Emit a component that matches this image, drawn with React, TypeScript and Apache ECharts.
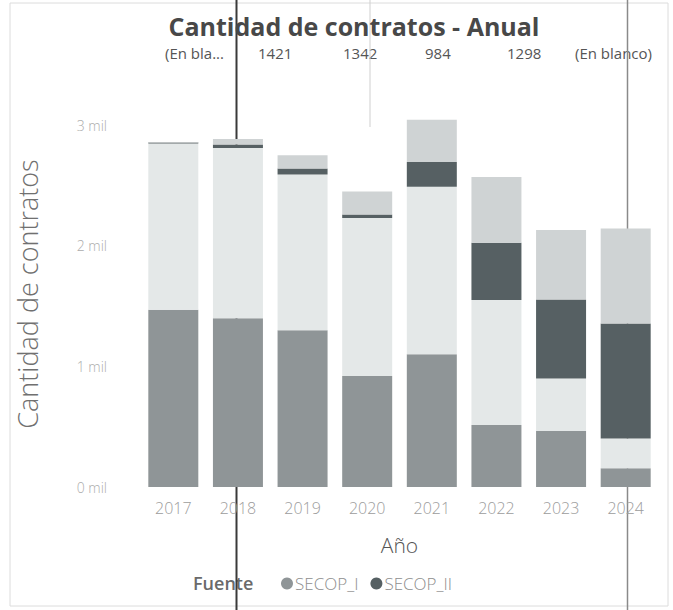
import React, { useEffect, useRef } from "react";
import * as echarts from "echarts";

const years = ["2017", "2018", "2019", "2020", "2021", "2022", "2023", "2024"];
const secopIBase = [1470, 1400, 1300, 920, 1100, 515, 465, 155];
const lightMiddle = [1378, 1410, 1290, 1310, 1390, 1035, 435, 248];
const secopII = [8, 30, 50, 30, 205, 475, 655, 953];
const lightTop = [5, 44, 110, 190, 350, 545, 575, 788];
const yTicks = [0, 1000, 2000, 3000];
const headerItems = ["(En bla...", "1421", "1342", "984", "1298", "(En blanco)"];
const headerX = [165, 258, 343, 425, 507, 575];

const FONT = "'Open Sans', 'Noto Sans', sans-serif";

export default function App() {
  const ref = useRef<HTMLDivElement>(null);
  useEffect(() => {
    if (!ref.current) return;
    const chart = echarts.init(ref.current, undefined, { renderer: "svg" });
    const mk = (name: string, data: number[], color: string) => ({
      name,
      type: "bar",
      stack: "total",
      data,
      barWidth: 50,
      itemStyle: { color },
      emphasis: { disabled: true },
    });
    chart.setOption({
      animation: false,
      backgroundColor: "#ffffff",
      textStyle: { fontFamily: FONT },
      title: {
        text: "Cantidad de contratos - Anual",
        left: 349,
        textAlign: "center",
        top: 8,
        textStyle: { fontSize: 25, fontWeight: "bold", color: "#484848", fontFamily: FONT },
      },
      legend: {
        data: ["SECOP_I", "SECOP_II"],
        left: 276,
        top: 570,
        icon: "circle",
        itemWidth: 12,
        itemHeight: 12,
        itemGap: 12,
        textStyle: { fontSize: 17, color: "#8e8e8e", fontWeight: 300, fontFamily: FONT, padding: [0, 0, 0, -3] },
      },
      grid: { left: 141, right: 15, top: 101, bottom: 123, containLabel: false },
      xAxis: {
        type: "category",
        data: years,
        name: "Año",
        nameLocation: "middle",
        nameGap: 47,
        nameTextStyle: { fontSize: 21, color: "#555", fontWeight: 300, fontFamily: FONT },
        axisLine: { show: false },
        axisTick: { show: false },
        axisLabel: { fontSize: 16, color: "#9c9c9c", margin: 13, fontWeight: 300, fontFamily: FONT },
      },
      yAxis: {
        type: "value",
        min: 0,
        max: 3200,
        interval: 1000,
        name: "Cantidad de contratos",
        nameLocation: "middle",
        nameGap: 100,
        nameTextStyle: { fontSize: 27, color: "#707070", fontWeight: 300, fontFamily: FONT },
        splitLine: { show: false },
        axisLine: { show: false },
        axisTick: { show: false },
        axisLabel: {
          fontSize: 14,
          color: "#acacac",
          margin: 34,
          fontWeight: 300,
          fontFamily: FONT,
          formatter: (v: number) => (yTicks.includes(v) ? `${v / 1000} mil` : ""),
        },
      },
      series: [
        mk("SECOP_I", secopIBase, "#8f9597"),
        mk("Otros (claro)", lightMiddle, "#e4e8e8"),
        mk("SECOP_II", secopII, "#566063"),
        mk("Otros (gris claro)", lightTop, "#cfd3d4"),
      ],
      graphic: [
        ...headerItems.map((t, i) => ({
          type: "text",
          left: headerX[i],
          top: 45,
          silent: true,
          style: { text: t, fontSize: 15, fill: "#555", fontFamily: FONT },
        })),
        {
          type: "text",
          left: 193,
          top: 574,
          silent: true,
          style: { text: "Fuente", fontSize: 18, fontWeight: 600, fill: "#6a6a6a", fontFamily: FONT },
        },
        {
          type: "rect",
          silent: true,
          shape: { x: 10, y: 3, width: 658, height: 603 },
          style: { fill: "none", stroke: "#dcdcdc", lineWidth: 1 },
        },
        {
          type: "line",
          silent: true,
          shape: { x1: 370, y1: 0, x2: 370, y2: 127 },
          style: { stroke: "#cfcfcf", lineWidth: 1 },
        },
        {
          type: "line",
          silent: true,
          shape: { x1: 236.5, y1: 0, x2: 236.5, y2: 610 },
          style: { stroke: "#3a3a3a", lineWidth: 2 },
        },
        {
          type: "line",
          silent: true,
          shape: { x1: 627.5, y1: 0, x2: 627.5, y2: 610 },
          style: { stroke: "#8a8a8a", lineWidth: 1.5 },
        },
      ],
    });
    return () => chart.dispose();
  }, []);
  return <div ref={ref} style={{ width: 673, height: 610, position: "absolute", left: 0, top: 0 }} />;
}
